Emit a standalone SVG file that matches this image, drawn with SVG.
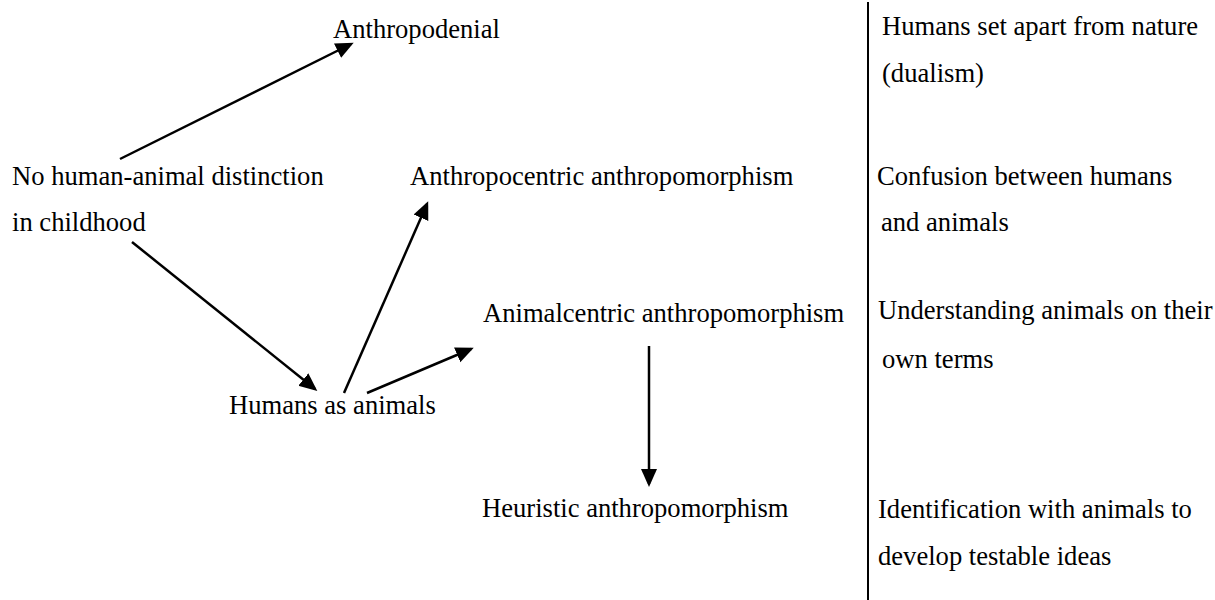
<svg xmlns="http://www.w3.org/2000/svg" width="1215" height="600" viewBox="0 0 1215 600">
<style>
text{font-family:"Liberation Serif","Times New Roman",serif;font-size:26.6px;fill:#000}
.c{stroke:#000;stroke-width:2.5;fill:none;marker-end:url(#ah)}
</style>
<defs>
<marker id="ah" markerUnits="userSpaceOnUse" markerWidth="18" markerHeight="18" viewBox="0 0 18 16" refX="15" refY="8" orient="auto">
<path d="M0,0 L18,8 L0,16 z" fill="#000"/>
</marker>
</defs>
<rect width="1215" height="600" fill="#fff"/>
<g id="connectors">
<line class="c" x1="120" y1="159" x2="351" y2="44"/>
<line class="c" x1="132" y1="242" x2="315" y2="389"/>
<line class="c" x1="344" y1="393" x2="427" y2="204"/>
<line class="c" x1="367" y1="393" x2="471" y2="349"/>
<line class="c" x1="649" y1="346" x2="649" y2="484"/>
<line x1="868" y1="2" x2="868" y2="600" stroke="#000" stroke-width="2"/>
</g>
<g id="n-anthropodenial"><text x="333" y="38">Anthropodenial</text></g>
<g id="n-childhood"><text x="12" y="185">No human-animal distinction</text><text x="12" y="231">in childhood</text></g>
<g id="n-anthropocentric"><text x="410" y="185">Anthropocentric anthropomorphism</text></g>
<g id="n-animalcentric"><text x="483" y="322">Animalcentric anthropomorphism</text></g>
<g id="n-humans-as-animals"><text x="229" y="414">Humans as animals</text></g>
<g id="n-heuristic"><text x="482" y="517">Heuristic anthropomorphism</text></g>
<g id="d-dualism"><text x="882" y="35">Humans set apart from nature</text><text x="882" y="82">(dualism)</text></g>
<g id="d-confusion"><text x="877" y="185">Confusion between humans</text><text x="881" y="231">and animals</text></g>
<g id="d-understanding"><text x="878" y="319">Understanding animals on their</text><text x="882" y="368">own terms</text></g>
<g id="d-identification"><text x="878" y="518">Identification with animals to</text><text x="878" y="565">develop testable ideas</text></g>
</svg>
